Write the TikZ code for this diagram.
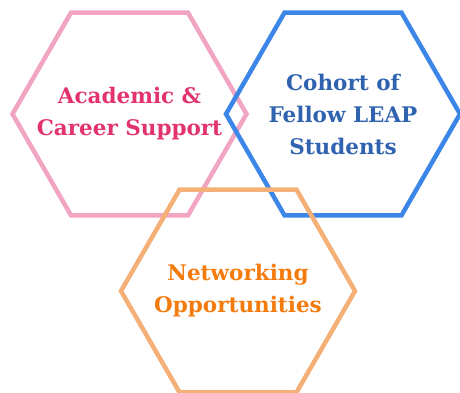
\documentclass[tikz,border=0pt]{standalone}
\usepackage{fontspec}
\setmainfont{DejaVu Serif}
\usetikzlibrary{shapes.geometric}
\definecolor{pinkline}{HTML}{F2A5C2}
\definecolor{pinktext}{HTML}{E2336F}
\definecolor{blueline}{HTML}{3B86E6}
\definecolor{bluetext}{HTML}{2F63B0}
\definecolor{orangeline}{HTML}{F4B077}
\definecolor{orangetext}{HTML}{F47B0E}
\tikzset{
  hexbox/.style={regular polygon, regular polygon sides=6, minimum size=234pt,
    inner sep=0pt, line width=4.5pt},
  hexlabel/.style={align=center, inner sep=0pt,
    font=\bfseries\fontsize{21.5}{32}\selectfont}
}
\newcommand{\drawhex}[5]{
  \node[hexbox, draw=#2line] (#1) at (#3,#4) {};
  \node[hexlabel, text=#2text] (#1label) at (#1) {#5};
}

\begin{document}
\begin{tikzpicture}[x=1pt,y=1pt]
  \useasboundingbox (0,0) rectangle (460,-393);
  \drawhex{academic}{pink}{129.5}{-114}{Academic \&\\Career Support}
  \drawhex{cohort}{blue}{343}{-114}{Cohort of\\Fellow LEAP\\Students}
  \drawhex{networking}{orange}{238}{-291}{Networking\\Opportunities}
\end{tikzpicture}
\end{document}
